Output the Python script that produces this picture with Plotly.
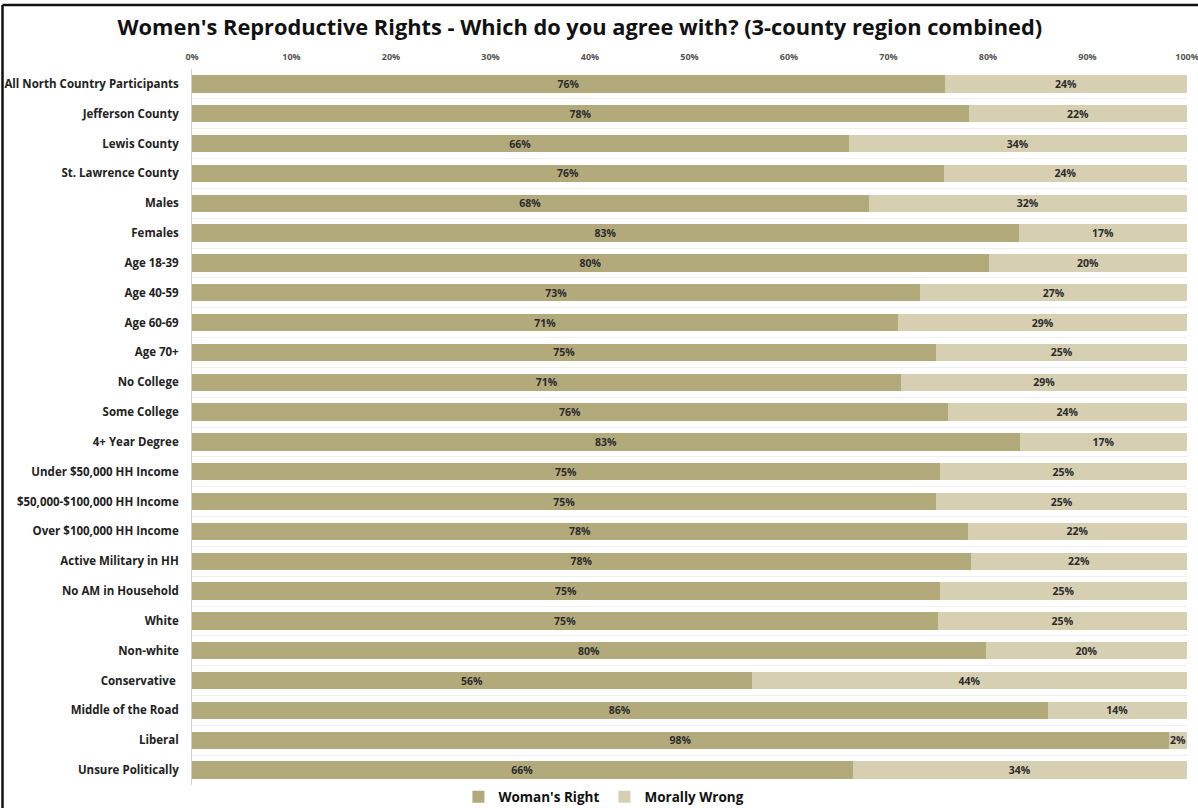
import plotly.graph_objects as go

categories = [
    "All North Country Participants", "Jefferson County", "Lewis County",
    "St. Lawrence County", "Males", "Females", "Age 18-39", "Age 40-59",
    "Age 60-69", "Age 70+", "No College", "Some College", "4+ Year Degree",
    "Under $50,000 HH Income", "$50,000-$100,000 HH Income",
    "Over $100,000 HH Income", "Active Military in HH", "No AM in Household",
    "White", "Non-white", "Conservative ", "Middle of the Road", "Liberal",
    "Unsure Politically",
]
womans_right = [75.7, 78.1, 66.0, 75.6, 68.0, 83.1, 80.1, 73.2, 71.0, 74.8,
                71.3, 76.0, 83.2, 75.2, 74.8, 78.0, 78.3, 75.2, 75.0, 79.8,
                56.3, 86.0, 98.2, 66.4]
morally_wrong = [24.3, 21.9, 34.0, 24.4, 32.0, 16.9, 19.9, 26.8, 29.0, 25.2,
                 28.7, 24.0, 16.8, 24.8, 25.2, 22.0, 21.7, 24.8, 25.0, 20.2,
                 43.7, 14.0, 1.8, 33.6]
x_ticks = [0, 10, 20, 30, 40, 50, 60, 70, 80, 90, 100]
x_tick_labels = ["0%", "10%", "20%", "30%", "40%", "50%", "60%", "70%", "80%", "90%", "100%"]

FONT = "Open Sans"
W, H = 1198, 808
ML, MR, MT, MB = 192, 11, 69, 23

fig = go.Figure()
fig.add_trace(go.Bar(
    y=categories, x=womans_right, orientation="h", name="Woman's Right",
    marker=dict(color="#b3aa7c", line=dict(width=0)),
    text=[f"{round(v)}%" for v in womans_right], textposition="inside",
    insidetextanchor="middle",
    textfont=dict(family=FONT, size=10.5, color="#2b2b2b", weight="bold"),
))
fig.add_trace(go.Bar(
    y=categories, x=morally_wrong, orientation="h", name="Morally Wrong",
    marker=dict(color="#d6cfb1", line=dict(width=0)),
    text=[f"{round(v)}%" for v in morally_wrong], textposition="inside",
    insidetextanchor="middle",
    textfont=dict(family=FONT, size=10.5, color="#2b2b2b", weight="bold"),
))

pw = W - ML - MR
ph = H - MT - MB
bx = (2.5 - ML) / pw
ty = 1 + (MT - 5) / ph
# frame lines (left and top edges of the chart border)
fig.add_shape(type="line", xref="paper", yref="paper",
              x0=bx, x1=bx, y0=-(MB + 5) / ph, y1=ty,
              line=dict(color="#111111", width=2.5), layer="above")
fig.add_shape(type="line", xref="paper", yref="paper",
              x0=bx, x1=(W + 5 - ML) / pw, y0=ty, y1=ty,
              line=dict(color="#111111", width=2.5), layer="above")

fig.update_layout(
    width=W, height=H, barmode="stack", bargap=0.42,
    margin=dict(l=ML, r=MR, t=MT, b=MB, autoexpand=False),
    paper_bgcolor="white", plot_bgcolor="white",
    uniformtext=dict(minsize=10, mode="show"),
    title=dict(text="Women's Reproductive Rights - Which do you agree with? (3-county region combined)",
               x=0.484, xanchor="center", y=1 - 27 / H, yanchor="middle",
               font=dict(family=FONT, size=21.8, color="#111111", weight="bold")),
    xaxis=dict(side="top", range=[0, 100], tickvals=x_ticks, ticktext=x_tick_labels,
               showgrid=False, zeroline=False, showline=False, ticks="",
               ticklabelstandoff=6, automargin=False, ticklabeloverflow="allow",
               tickfont=dict(family=FONT, size=9, color="#555555", weight="bold"),
               fixedrange=True),
    yaxis=dict(autorange="reversed", showgrid=True, gridcolor="#efefef", gridwidth=1,
               tickson="boundaries", ticks="", showline=True, linecolor="#cfcfcf",
               linewidth=1, automargin=False,
               tickfont=dict(family=FONT, size=11.5, color="#222222", weight="bold"),
               ticklabelstandoff=10),
    legend=dict(orientation="h", x=0.414, xanchor="center", y=-12 / ph, yanchor="middle",
                font=dict(family=FONT, size=13.5, color="#111111", weight="bold"),
                itemwidth=30, traceorder="normal", bgcolor="rgba(0,0,0,0)"),
    showlegend=True,
)

fig.write_html("out.html", config={"displayModeBar": False},
               post_script="document.body.style.margin='0';document.body.style.overflow='hidden';")
